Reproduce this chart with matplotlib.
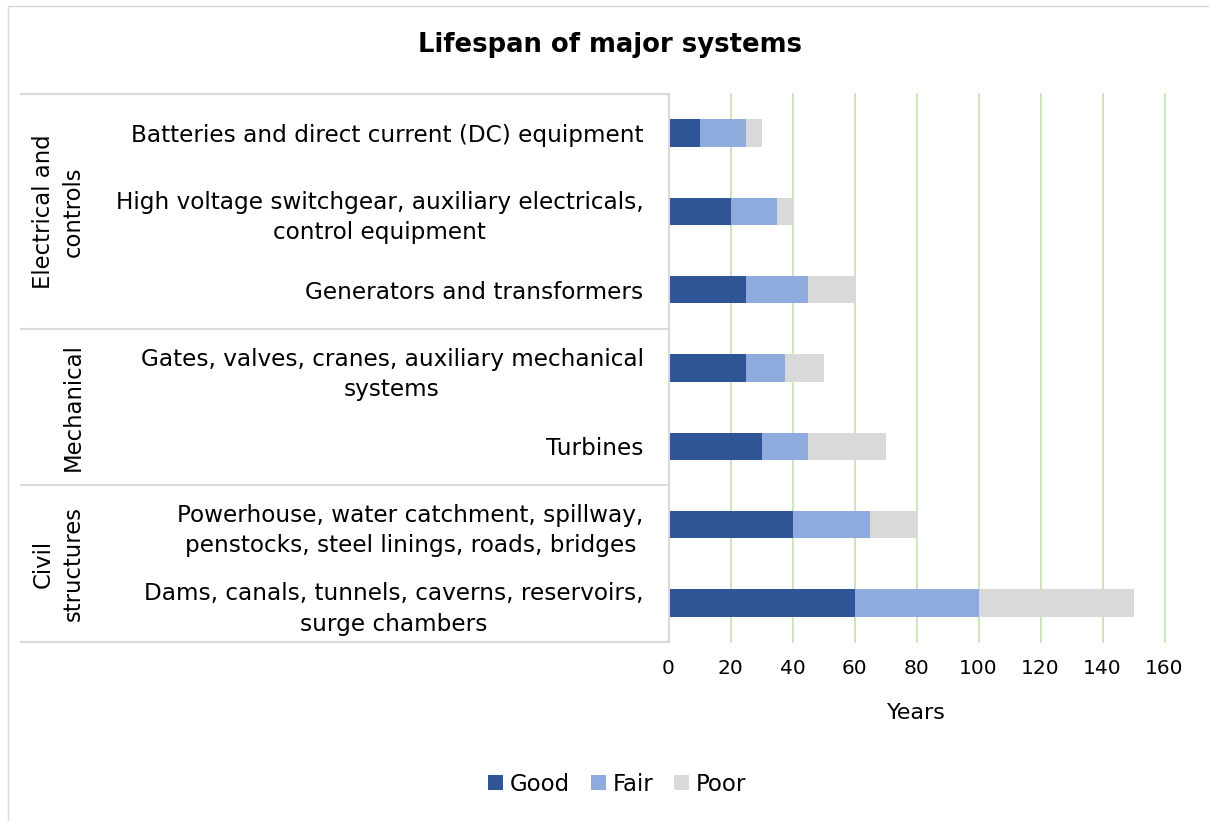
import matplotlib
matplotlib.use("Agg")
import matplotlib.pyplot as plt
from matplotlib.patches import Rectangle, Patch
from matplotlib.lines import Line2D
import matplotlib.transforms as mtransforms

# ---- data ----
categories = [
    "Batteries and direct current (DC) equipment",
    "High voltage switchgear, auxiliary electricals,\ncontrol equipment",
    "Generators and transformers",
    "Gates, valves, cranes, auxiliary mechanical\nsystems",
    "Turbines",
    "Powerhouse, water catchment, spillway,\npenstocks, steel linings, roads, bridges",
    "Dams, canals, tunnels, caverns, reservoirs,\nsurge chambers",
]
groups = ["Electrical and\ncontrols", "Mechanical", "Civil\nstructures"]
group_sizes = [3, 2, 2]
good = [10, 20, 25, 25, 30, 40, 60]
fair = [15, 15, 20, 12.5, 15, 25, 40]
poor = [5, 5, 15, 12.5, 25, 15, 50]
series_names = ["Good", "Fair", "Poor"]
xticks = [0, 20, 40, 60, 80, 100, 120, 140, 160]

# ---- style ----
plt.rcParams['font.family'] = ['DejaVu Sans']
C_GOOD, C_FAIR, C_POOR = "#2F5597", "#8FAADC", "#D9D9D9"
GRID = "#C3E2AE"
LINE = "#D9D9D9"
W, H = 1209, 821
FS = 16.7

fig = plt.figure(figsize=(W / 100, H / 100), dpi=100)

# outer chart border
fig.patches.append(Rectangle((8 / W, -0.1), 1.2, 1.1 - 6 / H,
                             transform=fig.transFigure, fill=False,
                             edgecolor=LINE, linewidth=1.0))

ax_left, ax_right = 668.5, 1164.5
ax_top, ax_bot = 94, 642
ax = fig.add_axes([ax_left / W, (H - ax_bot) / H,
                   (ax_right - ax_left) / W, (ax_bot - ax_top) / H])

y = list(range(len(categories)))
left2 = [g + f for g, f in zip(good, fair)]
bh = 0.35
ax.barh(y, good, height=bh, color=C_GOOD, label=series_names[0])
ax.barh(y, fair, left=good, height=bh, color=C_FAIR, label=series_names[1])
ax.barh(y, poor, left=left2, height=bh, color=C_POOR, label=series_names[2])

ax.set_xlim(0, 160)
ax.set_ylim(len(categories) - 0.5, -0.5)
ax.set_xticks(xticks)
ax.set_xticklabels([str(t) for t in xticks], fontsize=14.5)
ax.xaxis.grid(True, color=GRID, linewidth=1.2)
ax.set_axisbelow(True)
ax.tick_params(axis='x', length=0, pad=12)
ax.tick_params(axis='y', length=0, pad=18)
ax.set_yticks(y)
ax.set_yticklabels(categories, fontsize=FS)
for lab in ax.get_yticklabels():
    lab.set_multialignment('center')
    lab.set_linespacing(1.4)
for s in ['top', 'right', 'bottom']:
    ax.spines[s].set_visible(False)
ax.spines['left'].set_color(LINE)
ax.spines['left'].set_linewidth(1.5)
gls = ax.get_xgridlines()
gls[0].set_visible(False)
for g in gls:
    g.set_clip_on(False)

# category box lines
trans = mtransforms.blended_transform_factory(fig.transFigure, ax.transData)
bounds = [-0.5]
acc = -0.5
for n in group_sizes:
    acc += n
    bounds.append(acc)
for b in bounds:
    ax.add_line(Line2D([21 / W, ax_left / W], [b, b], transform=trans,
                       color=LINE, linewidth=1.5, clip_on=False))

# group labels
start = -0.5
for gname, n in zip(groups, group_sizes):
    mid = start + n / 2
    ax.text(85 / W, mid, gname, transform=trans, rotation=90, ha='right',
            va='center', multialignment='center', fontsize=16.4, linespacing=1.4)
    start += n

# title, axis title
fig.text(610 / W, 1 - 45 / H, "Lifespan of major systems", ha='center',
         va='center', fontsize=18.6, fontweight='bold')
fig.text((ax_left + ax_right) / 2 / W, 1 - 713 / H, "Years", ha='center',
         va='center', fontsize=16)

handles = [Patch(facecolor=c) for c in (C_GOOD, C_FAIR, C_POOR)]
fig.legend(handles, series_names, loc='center', bbox_to_anchor=(617 / W, 1 - 784 / H),
           ncol=3, frameon=False, fontsize=16.5, handlelength=0.65, handleheight=0.65,
           handletextpad=0.3, columnspacing=0.9)

fig.savefig("out.png", dpi=100)
